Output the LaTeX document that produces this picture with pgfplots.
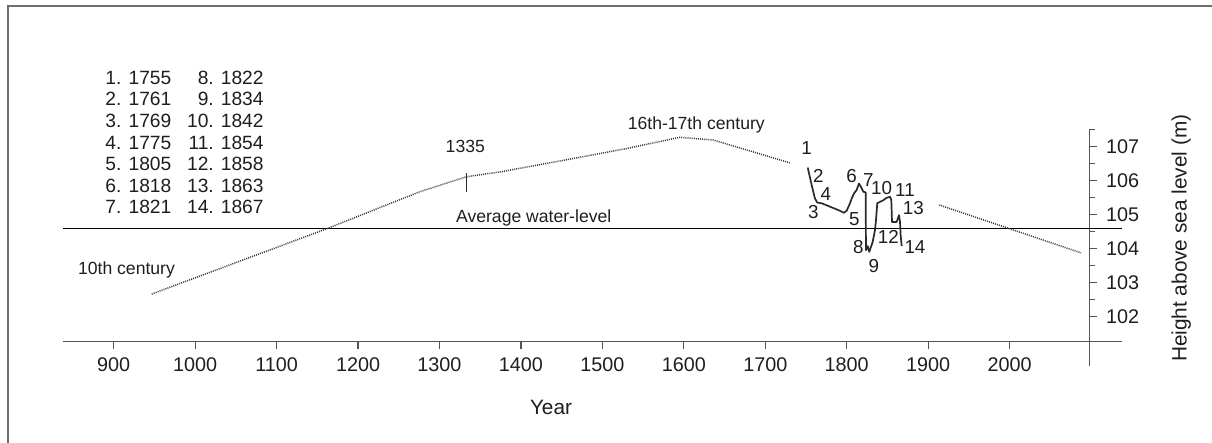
\documentclass[border=0pt]{standalone}
\usepackage{fontspec}
\setmainfont{Liberation Sans}
\usepackage{pgfplots}
\usepackage{pgfplotstable}
\pgfplotsset{compat=1.18}

\definecolor{axisgray}{HTML}{555555}
\definecolor{txt}{HTML}{1E1E1E}
\definecolor{framegray}{HTML}{6E6E6E}
\definecolor{dotgray}{HTML}{3A3A3A}
\definecolor{curve}{HTML}{2A2A2A}

% reconstructed level, 10th to 18th century
\pgfplotstableread{
year   h
946.7  102.67
1161.5 104.59
1276   105.68
1333   106.12
1374   106.26
1456   106.62
1530   106.95
1595   107.28
1636   107.20
1730   106.53
}\earlytrend

% trend after the gauge record
\pgfplotstableread{
year   h
1913.6 105.29
2000   104.59
2087.7 103.88
}\latetrend

% gauge record 1755--1867
\pgfplotstableread{
year   h
1752.1 106.39
1757.0 105.87
1761.0 105.48
1763.8 105.36
1769.2 105.34
1779.4 105.24
1789.6 105.14
1796.6 105.06
1799.9 105.12
1804.0 105.34
1806.1 105.48
1808.9 105.63
1812.2 105.73
1815.0 105.92
1818.4 105.78
1820.3 105.68
1823.3 105.66
1823.6 103.96
1825.7 104.08
1827.7 103.91
1829.8 104.06
1831.9 104.21
1834.7 104.55
1835.9 104.84
1837.5 105.34
1840.8 105.38
1844.9 105.43
1849.0 105.50
1853.1 105.53
1854.7 105.45
1855.6 104.79
1861.3 104.79
1864.2 104.99
1865.4 104.79
1866.2 104.40
1867.5 104.08
}\gauge

\begin{document}
\begin{tikzpicture}
\useasboundingbox (-31.35pt,-50.85pt) rectangle (574.65pt,170.65pt);
\clip (-31.35pt,-50.85pt) rectangle (574.65pt,170.65pt);
\draw[framegray, line width=1pt] (-27.55pt,-60pt) -- (-27.55pt,167.4pt) -- (590pt,167.4pt);

\begin{axis}[
  at={(0pt,0pt)}, anchor=south west,
  scale only axis, width=513.38pt, height=105.74pt,
  xmin=837.4, xmax=2098, ymin=101.28, ymax=107.5,
  axis x line=bottom, axis y line=right,
  axis line style={-, axisgray, line width=0.75pt},
  every tick/.style={axisgray, line width=0.6pt},
  tick align=outside,
  xtick={900,1000,...,2000},
  ytick={102,103,...,107},
  minor ytick={102.5,103.5,...,107.5},
  major tick length=4pt, minor tick length=3pt,
  /pgf/number format/assume math mode=true,
  /pgf/number format/1000 sep={},
  tick label style={font=\fontsize{9.9pt}{11pt}\selectfont, text=txt},
  xticklabel style={yshift=-0.5pt},
  yticklabel style={xshift=0.8pt},
  xlabel={Year},
  ylabel={Height above sea level (m)},
  label style={font=\fontsize{10.4pt}{12pt}\selectfont, text=txt},
  xlabel style={at={(axis description cs:0.4756,-0.3119)}, anchor=center},
  ylabel style={at={(axis description cs:1.0895,0.4871)}, anchor=center},
  clip=false,
]
% average water level and the extended axis lines
\addplot[black, line width=0.65pt] coordinates {(837.4,104.59) (2138,104.59)};
\addplot[axisgray, line width=0.75pt] coordinates {(2098,101.28) (2138,101.28)};
\addplot[axisgray, line width=0.75pt] coordinates {(2098,101.28) (2098,100.55)};

% reconstructed trend (dotted) and gauge record (solid)
\addplot[dotgray, line width=0.75pt, dash pattern=on 0.5pt off 0.55pt] table[x=year, y=h] {\earlytrend};
\addplot[dotgray, line width=0.75pt, dash pattern=on 0.5pt off 0.55pt] table[x=year, y=h] {\latetrend};
\addplot[curve, line width=0.85pt, line join=round] table[x=year, y=h] {\gauge};
\addplot[curve, line width=0.7pt] coordinates {(1333.4,106.22) (1333.4,105.68)};

\begin{scope}[every node/.style={text=txt, font=\fontsize{8.8pt}{10pt}\selectfont, inner sep=0pt, anchor=center}]
\node at (axis cs:1615.3,107.64) {16th-17th century};
\node at (axis cs:1415.7,104.91) {Average water-level};
\node at (axis cs:915.7,103.37) {10th century};
\node at (axis cs:1331.7,107.02) {1335};
\end{scope}

\begin{scope}[every node/.style={text=txt, font=\fontsize{9.4pt}{10pt}\selectfont, inner sep=0pt, anchor=center}]
\node at (axis cs:1750.8,106.95) {1};
\node at (axis cs:1765.1,106.14) {2};
\node at (axis cs:1758.9,105.07) {3};
\node at (axis cs:1774.5,105.61) {4};
\node at (axis cs:1809.3,104.86) {5};
\node at (axis cs:1806.1,106.14) {6};
\node at (axis cs:1826.5,106.02) {7};
\node at (axis cs:1814.2,104.06) {8};
\node at (axis cs:1833.4,103.49) {9};
\node at (axis cs:1842.9,105.78) {10};
\node at (axis cs:1871.5,105.73) {11};
\node at (axis cs:1851.0,104.34) {12};
\node at (axis cs:1881.7,105.21) {13};
\node at (axis cs:1883.8,104.04) {14};
\end{scope}
\end{axis}

% key to the numbered years
\foreach \a/\b [count=\i from 0] in {1. 1755/8. 1822, 2. 1761/9. 1834, 3. 1769/10. 1842,
    4. 1775/11. 1854, 5. 1805/12. 1858, 6. 1818/13. 1863, 7. 1821/14. 1867} {
  \node[anchor=base east, inner sep=0pt, text=txt, font=\fontsize{9.6pt}{11pt}\selectfont]
    at (54.5pt,{(128.5-\i*10.785)*1pt}) {\a};
  \node[anchor=base east, inner sep=0pt, text=txt, font=\fontsize{9.6pt}{11pt}\selectfont]
    at (100.65pt,{(128.5-\i*10.785)*1pt}) {\b};
}
\end{tikzpicture}
\end{document}
